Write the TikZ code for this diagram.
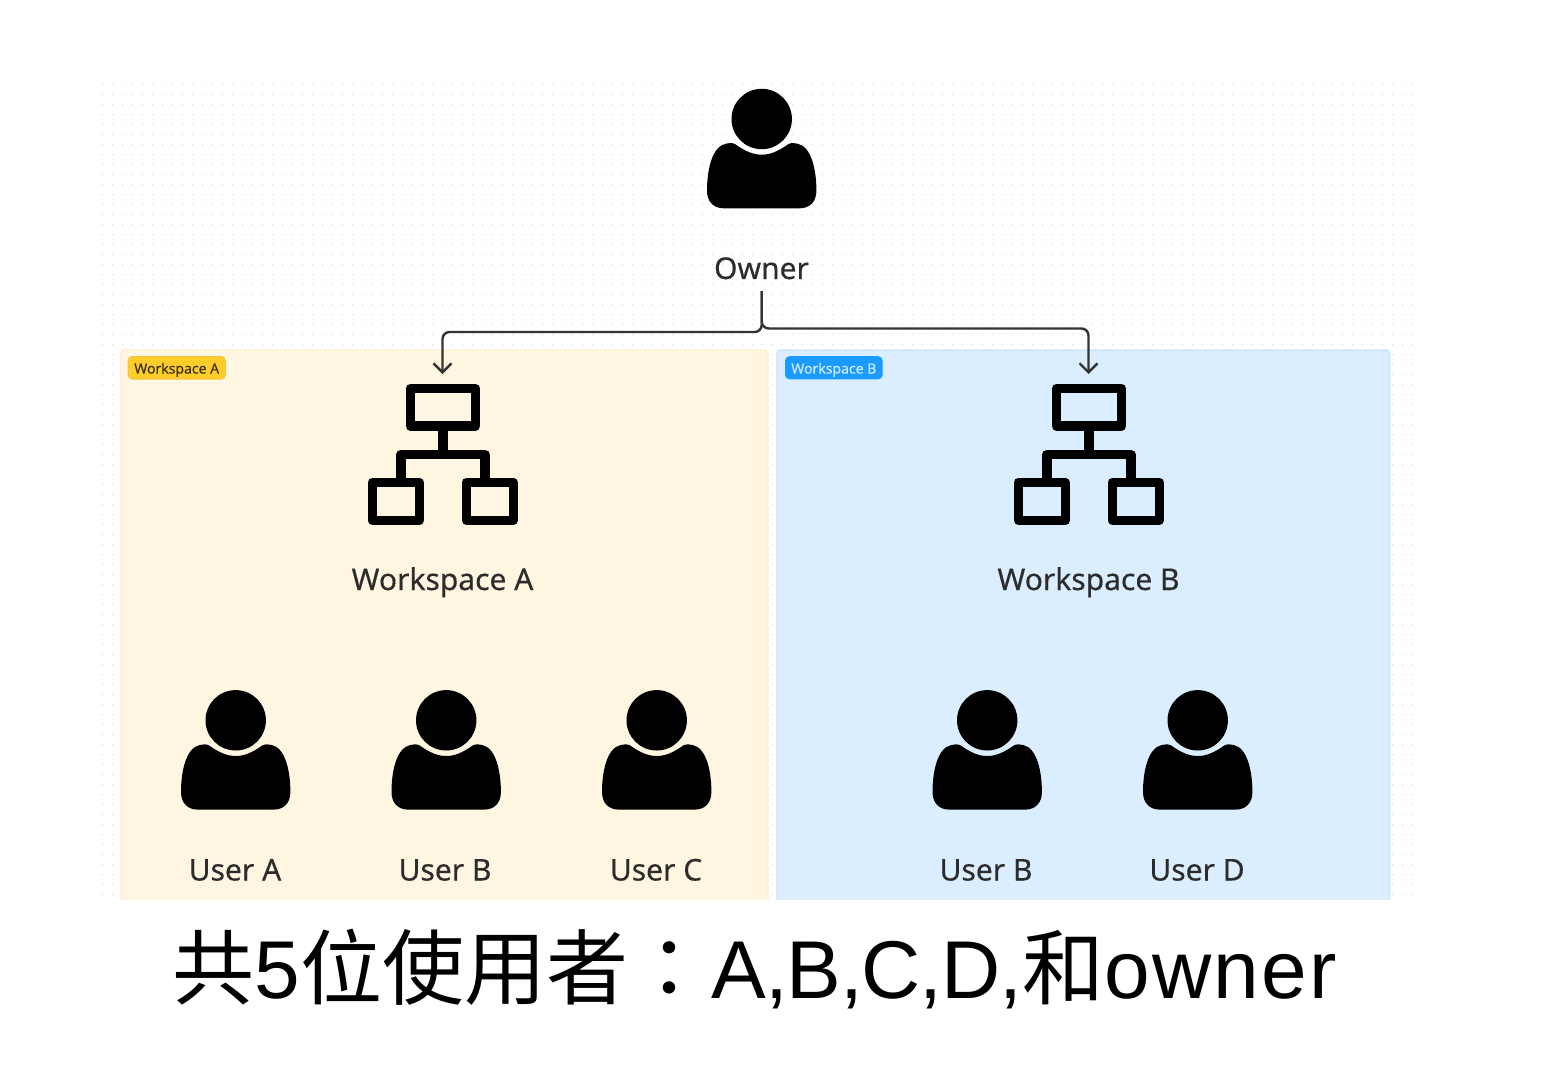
\documentclass[tikz,border=0pt]{standalone}
\usepackage{fontspec}
\usetikzlibrary{arrows.meta}
\setmainfont[FakeBold=0.35]{Noto Sans}
\newfontfamily\cjkfont{Noto Sans CJK TC}
\newfontfamily\capfont{Liberation Sans}
\definecolor{dotgrey}{HTML}{D4D4D4}
\definecolor{panelA}{HTML}{FFF6E1}
\definecolor{panelAedge}{HTML}{FFEFC9}
\definecolor{panelB}{HTML}{DAEEFF}
\definecolor{panelBedge}{HTML}{C6E4FC}
\definecolor{tagA}{HTML}{FFCD29}
\definecolor{tagAedge}{HTML}{F3C440}
\definecolor{tagB}{HTML}{1A9BFF}
\definecolor{tagAtext}{HTML}{3D3312}
\definecolor{tagBtext}{HTML}{CFE9FF}
\definecolor{labeltext}{HTML}{2C2C2C}
\definecolor{wire}{HTML}{333333}
\tikzset{
  x=1pt,y=-1pt,
  lbl/.style={inner sep=0pt,anchor=base,text=labeltext,font=\fontsize{30}{34}\selectfont},
  tagtext/.style={inner sep=0pt,anchor=base,font=\fontsize{14}{16}\selectfont},
  wireline/.style={draw=wire,line width=2.4pt,rounded corners=7pt},
  wirearrow/.style={wireline,-{Straight Barb[length=9pt,width=18pt,line width=2.4pt]}},
  person/.pic={
    \fill[black] (0,0.3) circle[radius=30.2];
    \fill[black] (-26.5,25.5) .. controls (-16,33) and (-8,36) .. (0,36)
      .. controls (8,36) and (16,33) .. (26.5,25.5)
      .. controls (29,24) and (33,24) .. (36,25)
      .. controls (50,28) and (54.7,52) .. (54.7,72)
      .. controls (54.7,83) and (48,89.6) .. (38,89.6)
      -- (-38,89.6)
      .. controls (-48,89.6) and (-54.7,83) .. (-54.7,72)
      .. controls (-54.7,52) and (-50,28) .. (-36,25)
      .. controls (-33,24) and (-29,24) .. cycle;
  }
}
\begin{document}
\begin{tikzpicture}
\useasboundingbox (0,0) rectangle (1568,1088);
\fill[white] (0,0) rectangle (1568,1088);
% dot grid
\foreach \r in {0,...,81}{
  \draw[dotgrey,line width=1.5pt,dash pattern=on 1.5pt off 8.5pt] (101.75,{84.5+\r*10}) -- (1416,{84.5+\r*10});
}
% panels
\begin{scope}
\clip (100,340) rectangle (1400,899);
\draw[panelAedge,fill=panelA,line width=1.2pt,rounded corners=3pt] (121,350) rectangle (768,920);
\draw[panelBedge,fill=panelB,line width=1.2pt,rounded corners=3pt] (777,350) rectangle (1389.5,920);
\end{scope}
% tags
\draw[tagAedge,fill=tagA,line width=1pt,rounded corners=4.5pt] (128,356.5) rectangle (225.5,379);
\node[tagtext,text=tagAtext] (tagAtxt) at (176.7,373.5) {Workspace A};
\fill[tagB,rounded corners=4.5pt] (785,356.2) rectangle (882.7,379.3);
\node[tagtext,text=tagBtext] (tagBtxt) at (833.8,373.5) {Workspace B};
% people
\pic at (761.7,118.7) {person};
\pic at (235.7,720) {person};
\pic at (446.2,720) {person};
\pic at (656.7,720) {person};
\pic at (987.2,720) {person};
\pic at (1197.7,720) {person};
% org icons
\foreach \cx in {442.8,1088.8}{
  \begin{scope}[shift={(\cx,0)},draw=black,line width=9.4pt,line join=round]
    \draw (-32.6,388.5) rectangle (32.6,426);
    \draw (-70.6,482.2) rectangle (-23.6,520.2);
    \draw (23.4,482.2) rectangle (70.4,520.2);
    \draw (0,426) -- (0,454.5);
    \draw (-42,482.2) -- (-42,454.5) -- (42,454.5) -- (42,482.2);
  \end{scope}
}
% labels
\node[lbl] (owner) at (761.5,279) {Owner};
\node[lbl] (wsA) at (442.5,590) {Workspace A};
\node[lbl] (wsB) at (1088.5,590) {Workspace B};
\node[lbl] (userA) at (235,880.5) {User A};
\node[lbl] (userB) at (445,880.5) {User B};
\node[lbl] (userC) at (656,880.5) {User C};
\node[lbl] (userB2) at (986,880.5) {User B};
\node[lbl] (userD) at (1197,880.5) {User D};
% connectors
\coordinate (wireTop) at (761.7,291);
\coordinate (splitL) at (761.7,332);
\coordinate (splitR) at (761.7,328.5);
\coordinate (elbowL) at (442.5,332);
\coordinate (elbowR) at (1088.5,328.5);
\coordinate (tipA) at (442.5,374);
\coordinate (tipB) at (1088.5,374);
\draw[wirearrow] (wireTop) -- (splitL) -- (elbowL) -- (tipA);
\draw[wirearrow] (wireTop) -- (splitR) -- (elbowR) -- (tipB);
% caption
\node[inner sep=0pt,anchor=base west,text=black,font=\fontsize{82}{90}\selectfont\capfont] (caption) at (172.5,998)
  {{\cjkfont 共}5{\cjkfont 位使用者：}\kern1.5pt{\addfontfeature{LetterSpace=-1.5}A,B,C,D,}{\cjkfont 和}{\addfontfeature{LetterSpace=3}owner}};
\end{tikzpicture}
\end{document}
